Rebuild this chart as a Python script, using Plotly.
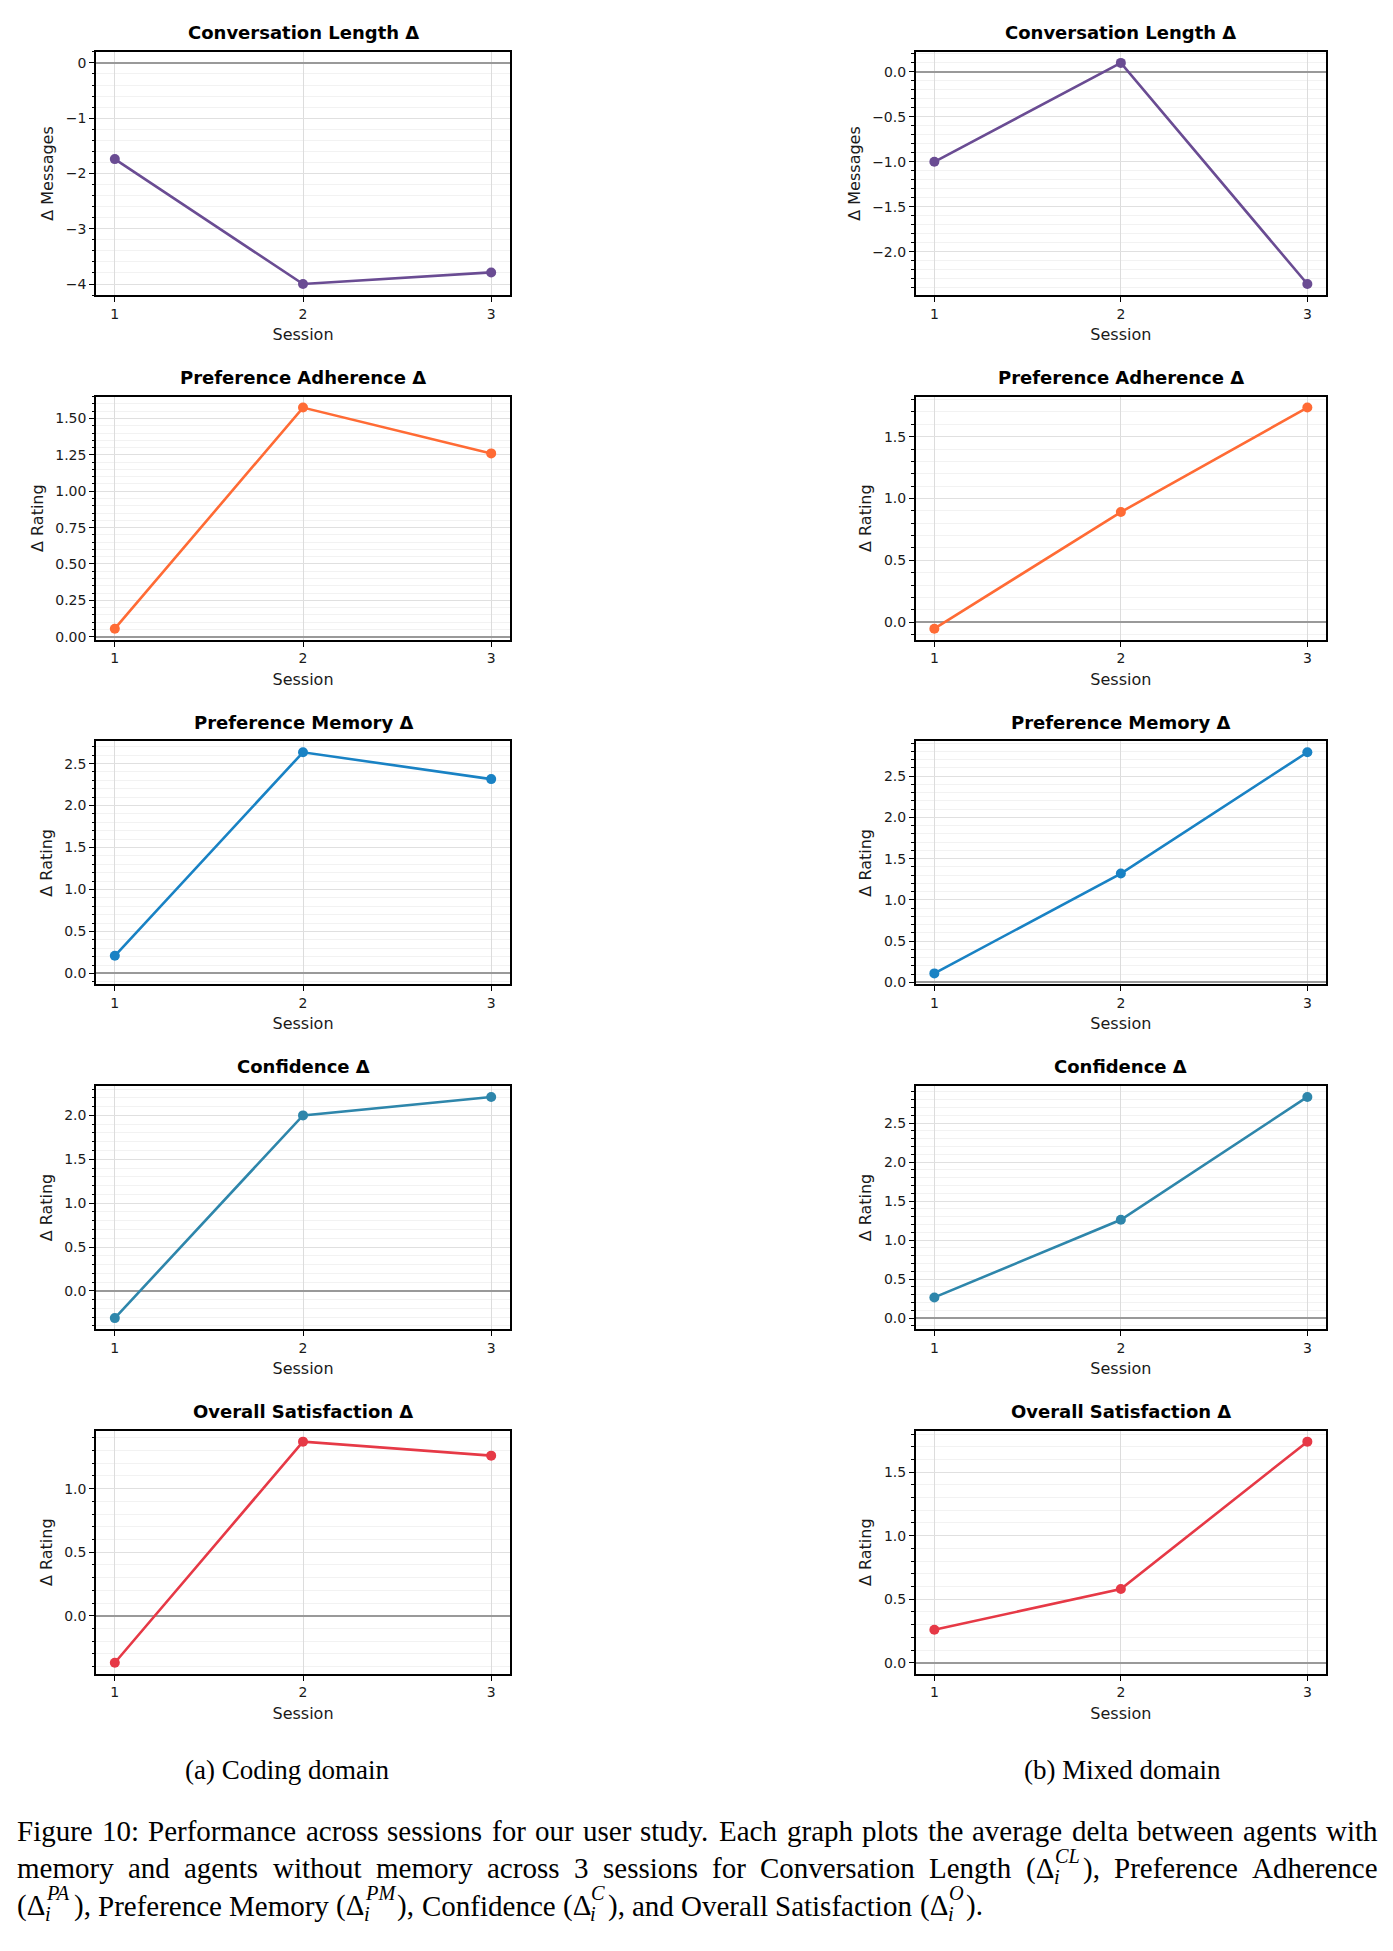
import plotly.graph_objects as go

# ---------------- data ----------------
sessions = [1, 2, 3]
session_ticks = ["1", "2", "3"]

panel_titles = ["Conversation Length Δ", "Preference Adherence Δ", "Preference Memory Δ",
                "Confidence Δ", "Overall Satisfaction Δ"]
y_titles = ["Δ Messages", "Δ Rating", "Δ Rating", "Δ Rating", "Δ Rating"]

coding_cl = [-1.74, -4.00, -3.79]
coding_pa = [0.055, 1.575, 1.26]
coding_pm = [0.21, 2.635, 2.315]
coding_conf = [-0.31, 2.00, 2.21]
coding_os = [-0.37, 1.37, 1.26]

mixed_cl = [-1.00, 0.10, -2.36]
mixed_pa = [-0.053, 0.89, 1.735]
mixed_pm = [0.11, 1.32, 2.79]
mixed_conf = [0.265, 1.26, 2.835]
mixed_os = [0.26, 0.58, 1.74]

subcaptions = ["(a) Coding domain", "(b) Mixed domain"]
caption_line1 = "Figure 10: Performance across sessions for our user study. Each graph plots the average delta between agents with"
caption_line2 = "memory and agents without memory across 3 sessions for Conversation Length ({CL}), Preference Adherence"
caption_line3 = "({PA}), Preference Memory ({PM}), Confidence ({C}), and Overall Satisfaction ({O})."

# ---------------- styles ----------------
colors = ["#6A4C93", "#FF6B35", "#1982C4", "#2E86AB", "#E63946"]
coding_series = [coding_cl, coding_pa, coding_pm, coding_conf, coding_os]
mixed_series = [mixed_cl, mixed_pa, mixed_pm, mixed_conf, mixed_os]
coding_fmt = [(1.0, "d"), (0.25, ".2f"), (0.5, ".1f"), (0.5, ".1f"), (0.5, ".1f")]
mixed_fmt = [(0.5, ".1f"), (0.5, ".1f"), (0.5, ".1f"), (0.5, ".1f"), (0.5, ".1f")]

W, H = 1393, 1951
col_x = [(96, 510), (915.7, 1326)]
row_top0, row_step, row_h = 52, 345.75, 244

FONT = "DejaVu Sans"
TXT = "#1a1a1a"
SERIF = "Liberation Serif"
CAP_SIZE = 29
SCRIPT = 0.7


def yrange(vals):
    lo, hi = min(vals), max(vals)
    m = 0.05 * (hi - lo)
    a, b = lo - m, hi + m
    if a > 0 or b < 0:
        lo, hi = min(lo, 0), max(hi, 0)
        m = 0.05 * (hi - lo)
        a, b = lo - m, hi + m
    return [a, b]


fig = go.Figure()
annotations = []
n = 0
for c, (series_list, fmts) in enumerate([(coding_series, coding_fmt), (mixed_series, mixed_fmt)]):
    for r in range(5):
        n += 1
        xa = "x" if n == 1 else f"x{n}"
        ya = "y" if n == 1 else f"y{n}"
        vals = series_list[r]
        fig.add_trace(go.Scatter(
            x=sessions, y=vals, xaxis=xa, yaxis=ya, mode="lines+markers",
            line=dict(color=colors[r], width=2.6),
            marker=dict(color=colors[r], size=10),
            showlegend=False, cliponaxis=False,
        ))
        top = row_top0 + r * row_step
        bot = top + row_h
        x0, x1 = col_x[c]
        dtick, fmt = fmts[r]
        xkey = "xaxis" if n == 1 else f"xaxis{n}"
        ykey = "yaxis" if n == 1 else f"yaxis{n}"
        fig.update_layout({
            xkey: dict(
                domain=[x0 / W, x1 / W], anchor=ya, range=[0.9, 3.1],
                tickvals=sessions, ticktext=session_ticks,
                showgrid=True, gridcolor="#dcdcdc", gridwidth=1, zeroline=False,
                ticks="outside", ticklen=5, tickwidth=1, tickcolor="black",
                showline=True, linecolor="black", linewidth=1.5, mirror=True,
                tickfont=dict(family=FONT, size=14, color=TXT),
                title=dict(text="Session", font=dict(family=FONT, size=16, color=TXT), standoff=8),
            ),
            ykey: dict(
                domain=[1 - bot / H, 1 - top / H], anchor=xa, range=yrange(vals),
                dtick=dtick, tick0=0, tickformat=fmt,
                showgrid=True, gridcolor="#e0e0e0", gridwidth=1,
                zeroline=True, zerolinecolor="#999999", zerolinewidth=1.5,
                ticks="outside", ticklen=5, tickwidth=1, tickcolor="black",
                showline=True, linecolor="black", linewidth=1.5, mirror=True,
                tickfont=dict(family=FONT, size=14, color=TXT),
                minor=dict(dtick=dtick / 5, tick0=0, ticks="outside", ticklen=2.5, tickwidth=1,
                           tickcolor="black", showgrid=True, gridcolor="#f2f2f2", gridwidth=1),
                title=dict(text=y_titles[r], font=dict(family=FONT, size=16, color=TXT), standoff=8),
            ),
        })
        annotations.append(dict(
            x=(x0 + x1) / 2 / W, y=1 - (top - 19) / H, xref="paper", yref="paper",
            text=f"<b>{panel_titles[r]}</b>", showarrow=False, xanchor="center", yanchor="middle",
            font=dict(family=FONT, size=18, color="black"),
        ))

# ---------------- captions ----------------
for xc, txt in zip([287, 1122], subcaptions):
    annotations.append(dict(
        x=xc / W, y=1 - 1775 / H, xref="paper", yref="paper", text=txt, showarrow=False,
        xanchor="center", yanchor="middle", font=dict(family=SERIF, size=27, color="black"),
    ))

# Times-compatible advance widths (per 1000 em) for laying out caption words
TW = {" ": 250, "(": 333, ")": 333, ",": 250, ".": 250, ":": 278, "Δ": 612}
TW.update({d: 500 for d in "0123456789"})
TW.update(dict(zip("ABCDEFGHIJKLMNOPQRSTUVWXYZ",
                   [722, 667, 667, 722, 611, 556, 722, 722, 333, 389, 722, 611, 889, 722, 722, 556,
                    722, 667, 556, 611, 722, 722, 944, 722, 722, 611])))
TW.update(dict(zip("abcdefghijklmnopqrstuvwxyz",
                   [444, 500, 444, 500, 444, 333, 500, 500, 278, 278, 500, 278, 778, 500, 500, 500,
                    500, 333, 389, 278, 500, 500, 722, 500, 500, 444])))
TWI = dict(zip("ACILMOP", [611, 667, 333, 556, 833, 722, 611]))
TWI["i"] = 278


def tw(s, size, table=TW):
    return sum(table.get(ch, 500) for ch in s) * size / 1000


def word_pieces(word, size):
    """Split a caption word into pieces (dx, dy, html, size); return pieces and width."""
    pieces = []
    x = 0.0
    buf = ""
    i = 0
    while i < len(word):
        ch = word[i]
        if ch == "{":
            j = word.index("}", i)
            sup = word[i + 1:j]
            buf += "Δ"
            pieces.append((x, 0, buf, size))
            x += tw(buf, size)
            buf = ""
            ss = size * SCRIPT
            pieces.append((x + 0.5, 0.30 * size, "<i>i</i>", ss))
            pieces.append((x + 1.5, -0.42 * size, f"<i>{sup}</i>", ss))
            x += max(tw("i", ss, TWI), tw(sup, ss, TWI)) + 4.5
            i = j + 1
        else:
            buf += ch
            i += 1
    if buf:
        pieces.append((x, 0, buf, size))
        x += tw(buf, size)
    return pieces, x


def place_line(line, y_px, left=16, right=None):
    words = line.split(" ")
    laid = [word_pieces(w, CAP_SIZE) for w in words]
    total = sum(w for _, w in laid)
    if right is None:
        gap = tw(" ", CAP_SIZE)
    else:
        gap = (right - left - total) / (len(words) - 1)
    out = []
    x = left
    for k, (pieces, w) in enumerate(laid):
        if right is not None and k == len(words) - 1:
            x = right - w
        for dx, dy, html, sz in pieces:
            out.append(dict(
                x=(x + dx) / W, y=1 - (y_px + dy) / H, xref="paper", yref="paper",
                text=html, showarrow=False, xanchor="left", yanchor="middle",
                borderpad=0, font=dict(family=SERIF, size=sz, color="black"),
            ))
        x += w + gap
    return out


annotations += place_line(caption_line1, 1837, right=1377)
annotations += place_line(caption_line2, 1874, right=1377)
annotations += place_line(caption_line3, 1911.5)

fig.update_layout(
    width=W, height=H, margin=dict(l=0, r=0, t=0, b=0),
    paper_bgcolor="white", plot_bgcolor="white", showlegend=False,
    annotations=annotations,
)

fig.write_html("out.html")
